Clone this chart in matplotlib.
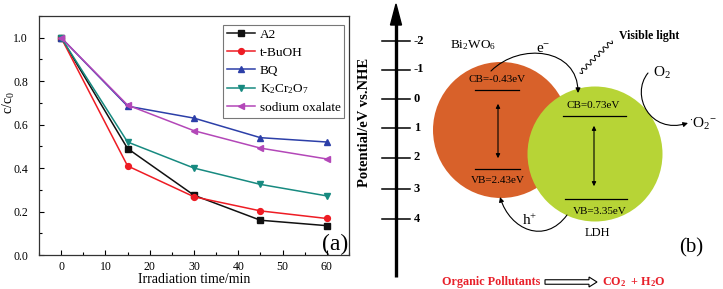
import numpy as np
import matplotlib
matplotlib.use("Agg")
import matplotlib.pyplot as plt
from matplotlib.patches import Circle, FancyArrowPatch, FancyArrow
from matplotlib.path import Path

plt.rcParams['font.family'] = ['Liberation Serif', 'DejaVu Serif']
plt.rcParams['mathtext.fontset'] = 'custom'
plt.rcParams['mathtext.rm'] = 'Liberation Serif'
plt.rcParams['mathtext.it'] = 'Liberation Serif:italic'
plt.rcParams['mathtext.bf'] = 'Liberation Serif:bold'

# ---------------- data ----------------
time_min = [0, 15, 30, 45, 60]
a2 = [1.0, 0.49, 0.275, 0.16, 0.135]
t_buoh = [1.0, 0.41, 0.268, 0.203, 0.168]
bq = [1.0, 0.685, 0.63, 0.54, 0.52]
k2cr2o7 = [1.0, 0.52, 0.40, 0.325, 0.272]
sodium_oxalate = [1.0, 0.69, 0.572, 0.492, 0.442]
series_labels = ['A2', 't-BuOH', 'BQ', r'K$_2$Cr$_2$O$_7$', 'sodium oxalate']
x_ticks = [0, 10, 20, 30, 40, 50, 60]
y_ticks = [0.0, 0.2, 0.4, 0.6, 0.8, 1.0]
potential_ticks = [-2, -1, 0, 1, 2, 3, 4]

colors = ['#111111', '#ee1c24', '#2c3fa8', '#178a80', '#b347b8']
markers = ['s', 'o', '^', 'v', '<']

W, H = 723, 289
fig = plt.figure(figsize=(W / 100, H / 100), dpi=100)

# background drawing axes (pixel coordinates)
bg = fig.add_axes([0, 0, 1, 1])
bg.set_xlim(0, W)
bg.set_ylim(H, 0)
bg.axis('off')

# ---------------- panel (a) ----------------
ax = fig.add_axes([39 / W, 1 - 255 / H, (349 - 39) / W, (255 - 16) / H])
for ys, c, m, lab in zip([a2, t_buoh, bq, k2cr2o7, sodium_oxalate], colors, markers, series_labels):
    ax.plot(time_min, ys, color=c, marker=m, markersize=4.2, lw=1.1, label=lab)
ax.set_xlim(-5, 65)
ax.set_ylim(0, 1.1)
ax.set_xticks(x_ticks)
ax.set_yticks(y_ticks)
ax.set_yticklabels([f'{v:.1f}' for v in y_ticks])
ax.set_xticks(np.arange(-5, 66, 5), minor=True)
ax.set_yticks(np.arange(0, 1.11, 0.1), minor=True)
ax.tick_params(direction='in', which='both', labelsize=8.5, width=0.8)
ax.tick_params(which='major', length=3.5)
ax.tick_params(which='minor', length=2)
ax.tick_params(axis='x', pad=4)
ax.tick_params(axis='y', pad=8)
for s in ax.spines.values():
    s.set_linewidth(0.9)
    s.set_color('#333333')
ax.set_xlabel('Irradiation time/min', fontsize=10, labelpad=0)
ax.set_ylabel(r'c/c$_0$', fontsize=10)
ax.yaxis.set_label_coords(-0.072, 0.636)
leg = ax.legend(loc='upper right', bbox_to_anchor=(0.985, 0.963), fontsize=9.5,
                frameon=True, fancybox=False, edgecolor='#555555', handlelength=2.1,
                handletextpad=0.35, labelspacing=0.42, borderpad=0.3, borderaxespad=0)
leg.get_frame().set_linewidth(0.8)
ax.text(0.955, 0.045, '(a)', transform=ax.transAxes, fontsize=17, ha='center', va='center')

# ---------------- panel (b) ----------------
# potential axis
bg.plot([396, 396], [277, 22], color='black', lw=2.4, solid_capstyle='butt')
bg.add_patch(plt.Polygon([[390.5, 25], [401.5, 25], [396, 4]], closed=True, color='black'))
tick_px = [40.7, 69.5, 99, 128, 157.5, 188.5, 219]
for v, yp in zip(potential_ticks, tick_px):
    bg.plot([382, 410], [yp, yp], color='black', lw=1.1)
    bg.text(414, yp, f'{v}', fontsize=9, fontweight='bold', ha='left', va='center')
bg.text(365, 122, 'Potential/eV vs.NHE', rotation=90, fontsize=10.5, fontweight='bold',
        ha='center', va='center')

# circles
bg.add_patch(Circle((501, 130), 68, color='#d8612a', ec='none', zorder=1))
bg.add_patch(Circle((595, 154), 67.5, color='#b7d436', ec='none', zorder=2))

# Bi2WO6 bands
bg.plot([475, 519], [90, 90], color='black', lw=0.9, zorder=3)
bg.plot([475, 520], [169, 169], color='black', lw=0.9, zorder=3)
bg.text(497, 80, 'CB=-0.43eV', fontsize=8, ha='center', va='center', zorder=4)
bg.text(498, 180.5, 'VB=2.43eV', fontsize=8, ha='center', va='center', zorder=4)
bg.add_patch(FancyArrowPatch((498, 101), (498, 161), arrowstyle='<|-|>', mutation_scale=6,
                             color='black', lw=0.8, zorder=4))
bg.text(473, 45, r'Bi$_2$WO$_6$', fontsize=9.5, ha='center', va='center')

# LDH bands
bg.plot([563, 626], [116, 116], color='black', lw=0.9, zorder=3)
bg.plot([565, 627], [199, 199], color='black', lw=0.9, zorder=3)
bg.text(593, 106, 'CB=0.73eV', fontsize=8, ha='center', va='center', zorder=4)
bg.text(600, 211, 'VB=3.35eV', fontsize=8, ha='center', va='center', zorder=4)
bg.add_patch(FancyArrowPatch((594, 123), (594, 189), arrowstyle='<|-|>', mutation_scale=6,
                             color='black', lw=0.8, zorder=4))
bg.text(597, 233, 'LDH', fontsize=9, ha='center', va='center')

# e- transfer arrow
p = Path([(491, 71), (520, 42), (578, 48), (578, 93)],
         [Path.MOVETO, Path.CURVE4, Path.CURVE4, Path.CURVE4])
bg.add_patch(FancyArrowPatch(path=p, arrowstyle='-|>', mutation_scale=7, color='black',
                             lw=0.8, zorder=5))
bg.text(543, 50, r'e$^{-}$', fontsize=11, ha='center', va='center')

# h+ transfer arrow
p = Path([(567, 215), (545, 245), (510, 230), (500, 197)],
         [Path.MOVETO, Path.CURVE4, Path.CURVE4, Path.CURVE4])
bg.add_patch(FancyArrowPatch(path=p, arrowstyle='-|>', mutation_scale=7, color='black',
                             lw=0.8, zorder=5))
bg.text(530, 220, r'h$^{+}$', fontsize=11, ha='center', va='center')

# visible light wavy line
t = np.linspace(0, 1, 300)
x0, y0, x1, y1 = 580, 73, 612, 41
dx, dy = x1 - x0, y1 - y0
L = np.hypot(dx, dy)
nx, ny = -dy / L, dx / L
amp = 2.0
wave = amp * np.sin(2 * np.pi * 7.5 * t)
bg.plot(x0 + dx * t + nx * wave, y0 + dy * t + ny * wave, color='black', lw=0.7)
bg.text(619, 36, 'Visible light', fontsize=8.5, fontweight='bold', ha='left', va='center')

# O2 arrow
p = Path([(648, 73), (630, 95), (650, 135), (688, 123)],
         [Path.MOVETO, Path.CURVE4, Path.CURVE4, Path.CURVE4])
bg.add_patch(FancyArrowPatch(path=p, arrowstyle='-|>', mutation_scale=7, color='black',
                             lw=0.8, zorder=5))
bg.text(653, 73, r'O$_2$', fontsize=11, ha='left', va='center')
bg.text(689, 124, r'$^{\cdot}$O$_2$$^{-}$', fontsize=11, ha='left', va='center')

bg.text(691, 248, '(b)', fontsize=15, ha='center', va='center')

# bottom reaction
bg.text(491, 282, 'Organic Pollutants', fontsize=8.7, fontweight='bold', color='#e8202a',
        ha='center', va='center')
bg.add_patch(FancyArrow(545, 282, 44, 0, width=4.5, head_width=10, head_length=8,
                        length_includes_head=False, fc='white', ec='black', lw=0.8))
bg.text(602, 282, r'CO$_\mathbf{2}$  + H$_\mathbf{2}$O', fontsize=8.7, fontweight='bold',
        color='#e8202a', ha='left', va='center')

fig.savefig('out.png', dpi=100)
